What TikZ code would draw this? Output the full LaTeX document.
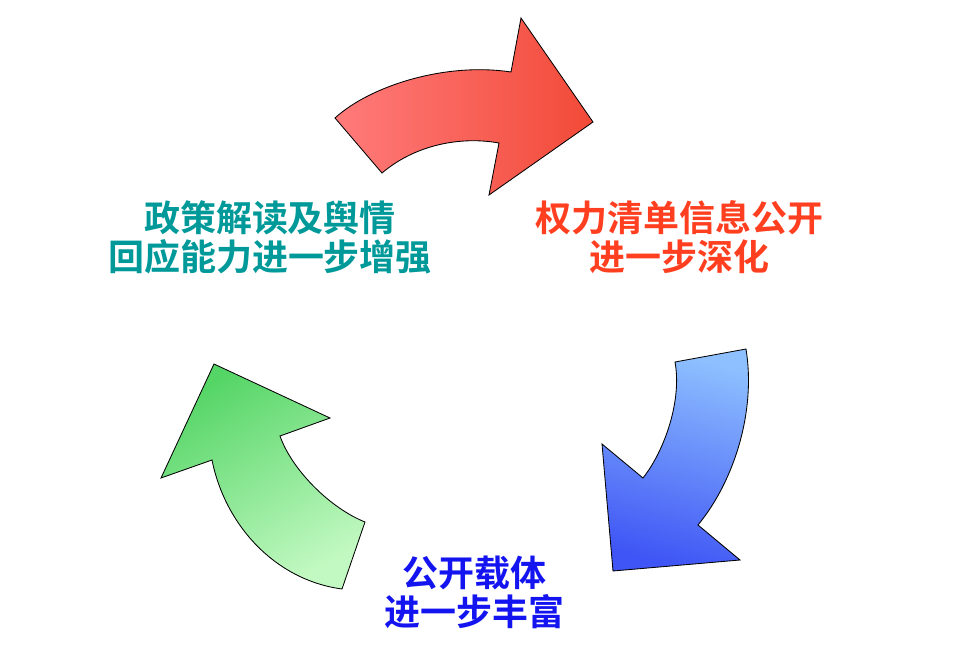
\documentclass[tikz,border=0pt]{standalone}
\usepackage{fontspec}
\usepackage{tikz}
\newfontfamily\cjk{Noto Sans CJK SC}[BoldFont={Noto Sans CJK SC Bold}]
\definecolor{CycleTeal}{HTML}{009999}
\definecolor{CycleRed}{HTML}{FF3F1F}
\definecolor{CycleBlue}{HTML}{1414F0}
\definecolor{CycleRedLight}{HTML}{FF7B7B}
\definecolor{CycleRedDark}{HTML}{F24A38}
\definecolor{CycleBlueLight}{HTML}{8EC0FF}
\definecolor{CycleBlueDark}{HTML}{3F55F5}
\definecolor{CycleGreenDark}{HTML}{55D566}
\definecolor{CycleGreenLight}{HTML}{C2F9C2}
\tikzset{
  cyclelabel/.style={font=\cjk\bfseries\fontsize{25.6pt}{27.7pt}\selectfont,align=center},
  cyclearrow/.style={draw=black,line width=0.6pt,line join=miter}
}

\begin{document}
\begin{tikzpicture}[x=0.025cm,y=-0.025cm]
      \useasboundingbox (0,0) rectangle (968,651);
      \path[cyclearrow,left color=CycleRedLight,right color=CycleRedDark]
        (335,118) .. controls (370,86) and (445,62) .. (511,72) -- (521,18) -- (593,122)
        -- (489,195) -- (499,143) .. controls (460,136) and (415,145) .. (382,173) -- cycle;
      \path[cyclearrow,top color=CycleBlueLight,bottom color=CycleBlueDark,shading angle=-15]
        (675,362) -- (746,349) .. controls (756,410) and (735,480) .. (698,525) -- (740,560)
        -- (613,571) -- (602,444) -- (643,478) .. controls (665,450) and (682,400) .. (675,362) -- cycle;
      \path[cyclearrow,top color=CycleGreenDark,bottom color=CycleGreenLight,shading angle=30]
        (342,589) -- (365,522) .. controls (330,508) and (292,470) .. (280,436) -- (330,418)
        -- (214,364) -- (161,478) -- (212,460) .. controls (225,525) and (275,580) .. (342,589) -- cycle;
      \node[cyclelabel,text=CycleTeal] (policy) at (270,237) {政策解读及舆情\\回应能力进一步增强};
      \node[cyclelabel,text=CycleRed] (power) at (679,237) {权力清单信息公开\\进一步深化};
      \node[cyclelabel,text=CycleBlue] (carrier) at (474,592) {公开载体\\进一步丰富};
    \end{tikzpicture}
\end{document}
